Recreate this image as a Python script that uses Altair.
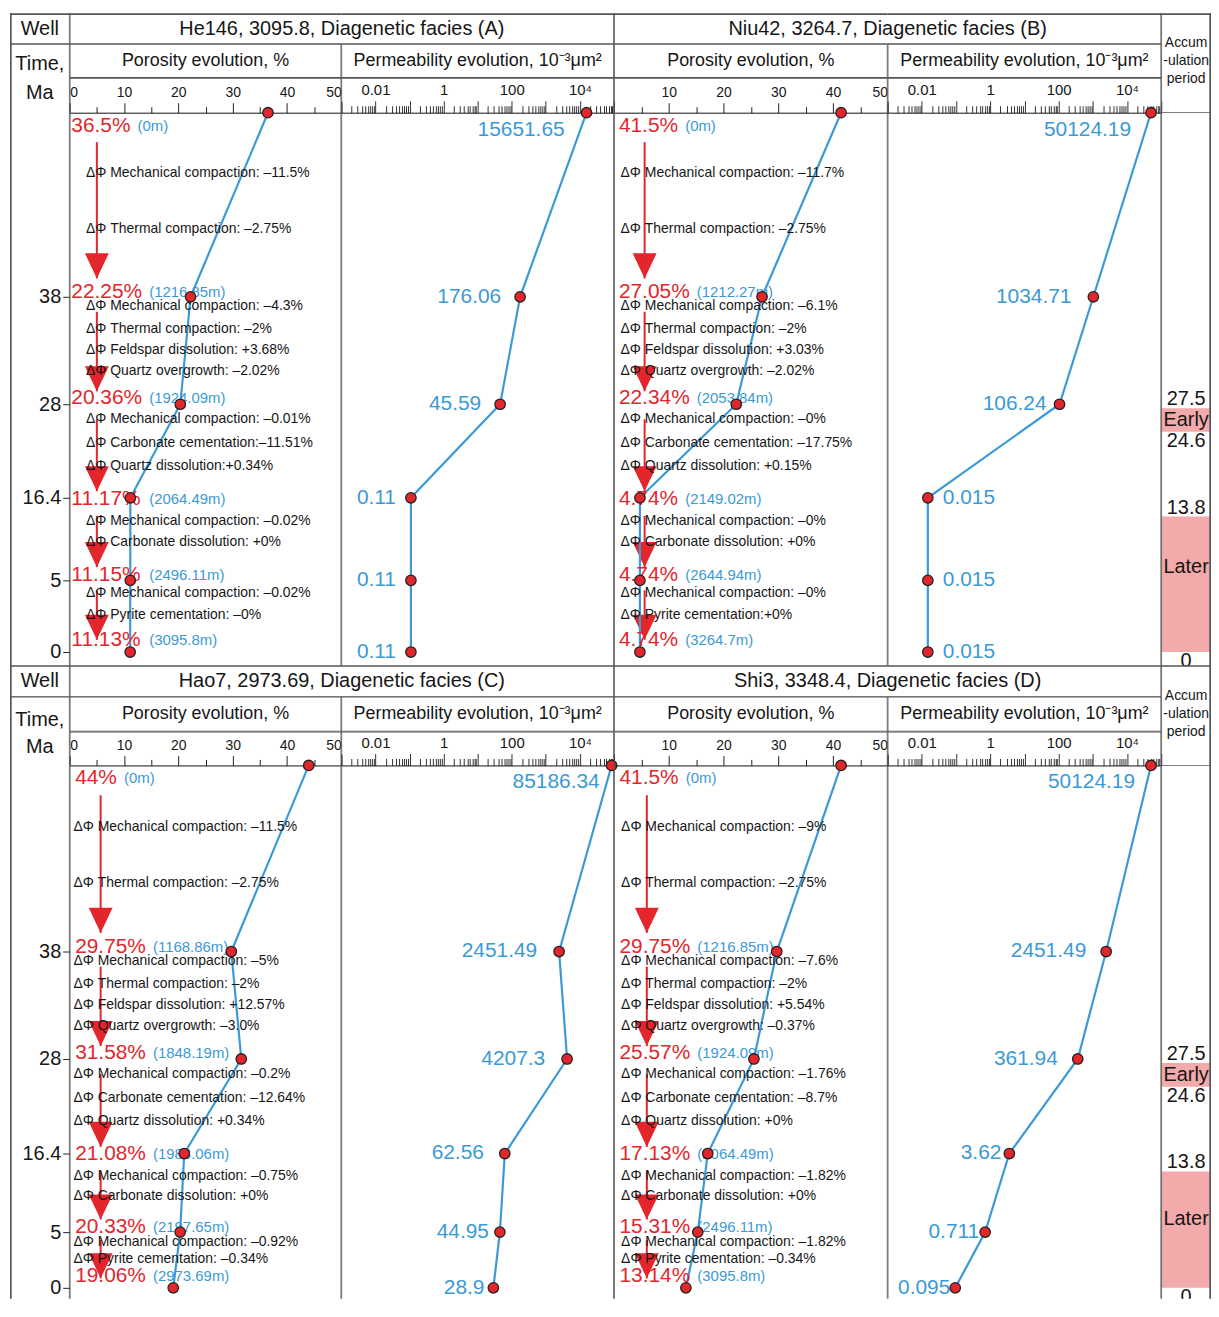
import altair as alt
import pandas as pd

FONT = "Liberation Sans"
RED = "#e3262c"
BLUE = "#3b9ad6"
INK = "#161616"
FRAME = "#555555"
PINK = "#f2aaaa"

# ---------------- data ----------------
STAGE_TIME = [45, 38, 28, 16.4, 5, 0]      # first value = deposition (top, unlabelled)
TIME_TICKS = [38, 28, 16.4, 5, 0]
POR_TICKS = list(range(0, 51, 5))
PERM_TICKS = [m * 10.0 ** e for e in range(-3, 5) for m in range(1, 10)] + [1e5]
PERM_TICK_LABELS = [(-2, "0.01"), (0, "1"), (2, "100"), (4, "10⁴")]

ACCUM_MARKS = [27.5, 24.6, 13.8, 0]
ACCUM_BAND_NAMES = ["Early", "Later"]
ACCUM_BAND_START = [27.5, 13.8]
ACCUM_BAND_END = [24.6, 0]

TITLE_A = "He146, 3095.8, Diagenetic facies (A)"
POR_A = [36.5, 22.25, 20.36, 11.17, 11.15, 11.13]
DEPTH_A = ["0m", "1216.85m", "1924.09m", "2064.49m", "2496.11m", "3095.8m"]
PERM_A = [15651.65, 176.06, 45.59, 0.11, 0.11, 0.11]
DPHI_A = [
    ["ΔΦ Mechanical compaction: –11.5%", "ΔΦ Thermal compaction: –2.75%"],
    ["ΔΦ Mechanical compaction: –4.3%", "ΔΦ Thermal compaction: –2%",
     "ΔΦ Feldspar dissolution: +3.68%", "ΔΦ Quartz overgrowth: –2.02%"],
    ["ΔΦ Mechanical compaction: –0.01%", "ΔΦ Carbonate cementation:–11.51%",
     "ΔΦ Quartz dissolution:+0.34%"],
    ["ΔΦ Mechanical compaction: –0.02%", "ΔΦ Carbonate dissolution: +0%"],
    ["ΔΦ Mechanical compaction: –0.02%", "ΔΦ Pyrite cementation: –0%"],
]

TITLE_B = "Niu42, 3264.7, Diagenetic facies (B)"
POR_B = [41.5, 27.05, 22.34, 4.74, 4.74, 4.74]
DEPTH_B = ["0m", "1212.27m", "2053.84m", "2149.02m", "2644.94m", "3264.7m"]
PERM_B = [50124.19, 1034.71, 106.24, 0.015, 0.015, 0.015]
DPHI_B = [
    ["ΔΦ Mechanical compaction: –11.7%", "ΔΦ Thermal compaction: –2.75%"],
    ["ΔΦ Mechanical compaction: –6.1%", "ΔΦ Thermal compaction: –2%",
     "ΔΦ Feldspar dissolution: +3.03%", "ΔΦ Quartz overgrowth: –2.02%"],
    ["ΔΦ Mechanical compaction: –0%", "ΔΦ Carbonate cementation: –17.75%",
     "ΔΦ Quartz dissolution: +0.15%"],
    ["ΔΦ Mechanical compaction: –0%", "ΔΦ Carbonate dissolution: +0%"],
    ["ΔΦ Mechanical compaction: –0%", "ΔΦ Pyrite cementation:+0%"],
]

TITLE_C = "Hao7, 2973.69, Diagenetic facies (C)"
POR_C = [44, 29.75, 31.58, 21.08, 20.33, 19.06]
DEPTH_C = ["0m", "1168.86m", "1848.19m", "1983.06m", "2197.65m", "2973.69m"]
PERM_C = [85186.34, 2451.49, 4207.3, 62.56, 44.95, 28.9]
DPHI_C = [
    ["ΔΦ Mechanical compaction: –11.5%", "ΔΦ Thermal compaction: –2.75%"],
    ["ΔΦ Mechanical compaction: –5%", "ΔΦ Thermal compaction: –2%",
     "ΔΦ Feldspar dissolution: +12.57%", "ΔΦ Quartz overgrowth: –3.0%"],
    ["ΔΦ Mechanical compaction: –0.2%", "ΔΦ Carbonate cementation: –12.64%",
     "ΔΦ Quartz dissolution: +0.34%"],
    ["ΔΦ Mechanical compaction: –0.75%", "ΔΦ Carbonate dissolution: +0%"],
    ["ΔΦ Mechanical compaction: –0.92%", "ΔΦ Pyrite cementation: –0.34%"],
]

TITLE_D = "Shi3, 3348.4, Diagenetic facies (D)"
POR_D = [41.5, 29.75, 25.57, 17.13, 15.31, 13.14]
DEPTH_D = ["0m", "1216.85m", "1924.09m", "2064.49m", "2496.11m", "3095.8m"]
PERM_D = [50124.19, 2451.49, 361.94, 3.62, 0.711, 0.095]
DPHI_D = [
    ["ΔΦ Mechanical compaction: –9%", "ΔΦ Thermal compaction: –2.75%"],
    ["ΔΦ Mechanical compaction: –7.6%", "ΔΦ Thermal compaction: –2%",
     "ΔΦ  Feldspar dissolution: +5.54%", "ΔΦ Quartz overgrowth: –0.37%"],
    ["ΔΦ Mechanical compaction: –1.76%", "ΔΦ Carbonate cementation: –8.7%",
     "ΔΦ Quartz dissolution: +0%"],
    ["ΔΦ Mechanical compaction: –1.82%", "ΔΦ Carbonate dissolution: +0%"],
    ["ΔΦ Mechanical compaction: –1.82%", "ΔΦ Pyrite cementation: –0.34%"],
]

POR_TITLE = "Porosity evolution, %"
PERM_TITLE = "Permeability evolution, 10⁻³μm²"
ACCUM_TITLE = ["Accum", "-ulation", "period"]

# ---------------- styling / layout (not data) ----------------
POR_LABEL_SHIFT = [13, -5, -6, 1, -5, -12]      # px, vertical nudge of the % labels
PERM_LABEL_SHIFT = [17, 0, 0, 0, 0, 0]          # px
ARROW_FRAC = [(0.16, 0.90), (0.14, 0.88), (0.16, 0.93), (0.22, 0.84), (0.14, 0.83)]
ANN_FRAC = [[0.33, 0.63], [0.09, 0.30, 0.50, 0.69], [0.16, 0.41, 0.66], [0.28, 0.54], [0.17, 0.49]]
ACCUM_SIDE = ["above", "below", "above", "below"]
HEAD = "M-1,-2.1L1,-2.1L0,0Z"
EDGE = 0.8
OUTER = 1.7

WELLS = [
    dict(title=TITLE_A, por=POR_A, depth=DEPTH_A, perm=PERM_A, dphi=DPHI_A,
         gap=[-22, -19, -19, -15, -15, -15], label_x=0.3, arrow_x=5.0, ann_x=3.0, zero=True),
    dict(title=TITLE_B, por=POR_B, depth=DEPTH_B, perm=PERM_B, dphi=DPHI_B,
         gap=[-20, -22, -13, 15, 15, 15], label_x=0.9, arrow_x=5.6, ann_x=1.2, zero=False),
    dict(title=TITLE_C, por=POR_C, depth=DEPTH_C, perm=PERM_C, dphi=DPHI_C,
         gap=[-12, -22, -22, -21, -11, -9], label_x=1.0, arrow_x=5.7, ann_x=0.7, zero=True),
    dict(title=TITLE_D, por=POR_D, depth=DEPTH_D, perm=PERM_D, dphi=DPHI_D,
         gap=[-16, -20, -20, -8, -6, -5], label_x=1.0, arrow_x=6.0, ann_x=1.3, zero=False),
]

ROWS = [
    dict(title=31, sub=34, axis=35, plot=556, offs=[0, 185, 293, 387, 470, 542], time_y=20, ma_y=15),
    dict(title=31, sub=35, axis=34, plot=536, offs=[0, 187, 295, 390, 469, 525], time_y=23, ma_y=15),
]
W_WELL, W_POR_1, W_PERM_1, W_POR_2, W_PERM_2, W_ACC = 60, 273, 274, 275, 275, 50


def interp(i, f):
    return STAGE_TIME[i] + f * (STAGE_TIME[i + 1] - STAGE_TIME[i])


def px_to_time(p, offs):
    n = len(offs)
    for i in range(n - 1):
        if p <= offs[i + 1] or i == n - 2:
            f = (p - offs[i]) / (offs[i + 1] - offs[i])
            return interp(i, f)


def border(w, h, edges="tblr", thick="", hlines=()):
    src = alt.Data(values=[{"k": 0}])

    def e(side):
        return OUTER if side in thick else EDGE

    boxes = []
    if "t" in edges:
        boxes.append((0, w, 0, e("t")))
    if "b" in edges:
        boxes.append((0, w, h - e("b"), h))
    if "l" in edges:
        boxes.append((0, e("l"), 0, h))
    if "r" in edges:
        boxes.append((w - e("r"), w, 0, h))
    for y in hlines:
        boxes.append((0, w, y - EDGE / 2, y + EDGE / 2))
    return [alt.Chart(src).mark_rect(color=FRAME).encode(
        x=alt.value(a), x2=alt.value(b), y=alt.value(c), y2=alt.value(d)) for a, b, c, d in boxes]


def text_cell(text, w, h, size, edges="tblr", thick="", x=None, y=None, line_height=None, dy=0):
    kw = dict(fontSize=size, color=INK, baseline="middle", align="center", dy=dy)
    if line_height:
        kw["lineHeight"] = line_height
    enc = {"text": alt.value(text)}
    if x is not None:
        enc["x"] = alt.value(x)
    if y is not None:
        enc["y"] = alt.value(y)
    txt = alt.Chart(alt.Data(values=[{"k": 0}])).mark_text(**kw).encode(**enc)
    return alt.layer(*border(w, h, edges, thick), txt).properties(width=w, height=h)


def por_axis(zero, shift):
    cond = "datum.value % 10 == 0" + ("" if zero else " && datum.value > 0")
    return alt.Axis(orient="top", offset=-shift, values=POR_TICKS,
                    labelExpr=f"({cond}) ? datum.label : ''",
                    tickSize={"condition": {"test": "datum.value % 10 == 0", "value": 10}, "value": 6},
                    labelFlush=True, labelOverlap=False, title=None, grid=False,
                    labelFontSize=14, labelPadding=3, domainColor="#111", tickColor="#222",
                    labelColor=INK)


def perm_axis(shift):
    L = "(log(datum.value)/LN10)"
    expr = "''"
    for e, lab in reversed(PERM_TICK_LABELS):
        expr = f"abs({L}-({e}))<1e-6 ? '{lab}' : ({expr})"
    return alt.Axis(orient="top", offset=-shift, values=PERM_TICKS, labelExpr=expr,
                    tickSize={"condition": {"test": f"abs({L}-round({L}))<1e-6", "value": 12}, "value": 7},
                    labelFlush=False, labelOverlap=False, title=None, grid=False,
                    labelFontSize=15, labelPadding=3, domainColor="#111", tickColor="#333",
                    labelColor=INK)


def porosity_panel(w, row, width, edges):
    top = row["axis"]
    offs = row["offs"]
    height = top + row["plot"]
    sy = alt.Scale(domain=STAGE_TIME, range=[o + top for o in offs], nice=False, zero=False)
    sx = alt.Scale(domain=[0, 50], nice=False, zero=False)
    xa = por_axis(w["zero"], top)
    ppu = width / 50.0

    def X(f):
        return alt.X(f"{f}:Q", scale=sx, axis=xa)

    def Y(f):
        return alt.Y(f"{f}:Q", scale=sy, axis=None)

    n = len(STAGE_TIME)
    pts = pd.DataFrame({
        "i": list(range(n)), "t": STAGE_TIME, "por": w["por"],
        "plabel": [f"{v}%" for v in w["por"]],
        "dlabel": [f"({d})" for d in w["depth"]],
        "tl": [px_to_time(offs[i] + POR_LABEL_SHIFT[i], offs) for i in range(n)],
        "lx": [w["label_x"]] * n,
    })
    arrows = pd.DataFrame({
        "ax": [w["arrow_x"]] * (n - 1),
        "t1": [interp(i, ARROW_FRAC[i][0]) for i in range(n - 1)],
        "t2": [interp(i, ARROW_FRAC[i][1]) for i in range(n - 1)],
    })
    ann_rows = []
    for i, lines in enumerate(w["dphi"]):
        for j, txt in enumerate(lines):
            ann_rows.append({"tx": w["ann_x"], "t": interp(i, ANN_FRAC[i][j]), "txt": txt})
    ann = pd.DataFrame(ann_rows)

    base = alt.Chart(pts)
    rule = alt.Chart(arrows).mark_rule(color=RED, strokeWidth=2).encode(
        x=X("ax"), y=Y("t1"), y2="t2")
    head = alt.Chart(arrows).mark_point(shape=HEAD, filled=True, color=RED, size=576, opacity=1).encode(
        x=X("ax"), y=Y("t2"))
    line = base.mark_line(color=BLUE, strokeWidth=2.2).encode(x=X("por"), y=Y("t"), order="i:Q")
    anntext = alt.Chart(ann).mark_text(align="left", baseline="middle", fontSize=14, color=INK).encode(
        x=X("tx"), y=Y("t"), text="txt:N")
    red = base.mark_text(align="left", baseline="middle", fontSize=21, color=RED).encode(
        x=X("lx"), y=Y("tl"), text="plabel:N")
    dep = base.transform_calculate(
        dx=f"datum.lx + (length(datum.plabel) * 11.7 + 14 - (indexof(datum.plabel, '.') >= 0 ? 5.9 : 0)) / {ppu}"
    ).mark_text(align="left", baseline="middle", fontSize=15, color=BLUE).encode(
        x=X("dx"), y=Y("tl"), text="dlabel:N")
    dots = base.mark_circle(color=RED, stroke="#222", strokeWidth=1.3, size=110, opacity=1).encode(
        x=X("por"), y=Y("t"))
    return alt.layer(*border(width, height, edges), rule, head, line, anntext, red, dep, dots).properties(
        width=width, height=height)


def perm_panel(w, row, width, edges):
    top = row["axis"]
    offs = row["offs"]
    height = top + row["plot"]
    sy = alt.Scale(domain=STAGE_TIME, range=[o + top for o in offs], nice=False, zero=False)
    sx = alt.Scale(type="log", domain=[1e-3, 1e5], nice=False)
    xa = perm_axis(top)
    ppd = width / 8.0     # pixels per decade

    def X(f):
        return alt.X(f"{f}:Q", scale=sx, axis=xa)

    def Y(f):
        return alt.Y(f"{f}:Q", scale=sy, axis=None)

    n = len(STAGE_TIME)
    df = pd.DataFrame({
        "i": list(range(n)), "t": STAGE_TIME, "k": w["perm"],
        "lab": [str(v) for v in w["perm"]],
        "side": ["R" if g > 0 else "L" for g in w["gap"]],
        "kl": [v * 10 ** (g / ppd) for v, g in zip(w["perm"], w["gap"])],
        "tl": [px_to_time(offs[i] + PERM_LABEL_SHIFT[i], offs) for i in range(n)],
    })
    base = alt.Chart(df)
    line = base.mark_line(color=BLUE, strokeWidth=2.2).encode(x=X("k"), y=Y("t"), order="i:Q")
    left = base.transform_filter("datum.side == 'L'").mark_text(
        align="right", baseline="middle", fontSize=21, color=BLUE).encode(
        x=X("kl"), y=Y("tl"), text="lab:N")
    right = base.transform_filter("datum.side == 'R'").mark_text(
        align="left", baseline="middle", fontSize=21, color=BLUE).encode(
        x=X("kl"), y=Y("tl"), text="lab:N")
    dots = base.mark_circle(color=RED, stroke="#222", strokeWidth=1.3, size=110, opacity=1).encode(
        x=X("k"), y=Y("t"))
    return alt.layer(*border(width, height, edges), line, left, right, dots).properties(
        width=width, height=height)


def time_cell(row, width, edges):
    top = row["axis"]
    height = top + row["plot"]
    sy = alt.Scale(domain=STAGE_TIME, range=[o + top for o in row["offs"]], nice=False, zero=False)
    ya = alt.Axis(orient="left", offset=-width, values=TIME_TICKS, format=".4~g", tickSize=7,
                  labelFontSize=20, labelPadding=2, domain=False, grid=False,
                  title=None, labelOverlap=False, labelColor=INK, tickColor="#222")
    ticks = alt.Chart(pd.DataFrame({"t": TIME_TICKS})).mark_point(opacity=0, size=1).encode(
        y=alt.Y("t:Q", scale=sy, axis=ya))
    txt = alt.Chart(alt.Data(values=[{"k": 0}])).mark_text(
        fontSize=20, color=INK, baseline="middle", align="center"
    ).encode(text=alt.value("Ma"), y=alt.value(row["ma_y"]))
    return alt.layer(*border(width, height, edges, "l"), ticks, txt).properties(width=width, height=height)


def accum_panel(row, width, edges):
    top = row["axis"]
    height = top + row["plot"]
    sy = alt.Scale(domain=STAGE_TIME, range=[o + top for o in row["offs"]], nice=False, zero=False)

    def Y(f):
        return alt.Y(f"{f}:Q", scale=sy, axis=None)

    bands = pd.DataFrame({
        "name": ACCUM_BAND_NAMES, "t0": ACCUM_BAND_START, "t1": ACCUM_BAND_END,
        "tm": [(a + b) / 2 for a, b in zip(ACCUM_BAND_START, ACCUM_BAND_END)],
    })
    marks = pd.DataFrame({"t": ACCUM_MARKS, "lab": [f"{v:g}" for v in ACCUM_MARKS], "side": ACCUM_SIDE})
    rect = alt.Chart(bands).mark_rect(color=PINK).encode(y=Y("t0"), y2="t1")
    names = alt.Chart(bands).mark_text(fontSize=20, color=INK, baseline="middle").encode(
        y=Y("tm"), text="name:N")
    above = alt.Chart(marks).transform_filter("datum.side == 'above'").mark_text(
        fontSize=20, color=INK, baseline="alphabetic", dy=-3, clip=True).encode(y=Y("t"), text="lab:N")
    below = alt.Chart(marks).transform_filter("datum.side == 'below'").mark_text(
        fontSize=20, color=INK, baseline="top", dy=-1, clip=True).encode(y=Y("t"), text="lab:N")
    return alt.layer(rect, names, above, below,
                     *border(width, height, edges, "r", hlines=(top,))).properties(
        width=width, height=height)


def grid_row(r, wa, wb):
    row = ROWS[r]
    first = r == 0
    last = r == len(ROWS) - 1
    pe = "tlr" if last else "tblr"
    tt = "t" if first else ""
    cells = [
        text_cell("Well", W_WELL, row["title"], 20, thick="l" + tt),
        text_cell(wa["title"], W_POR_1, row["title"], 20, edges="tbl", thick=tt,
                  x=(W_POR_1 + W_PERM_1) / 2),
        text_cell(" ", W_PERM_1, row["title"], 10, edges="tbr", thick=tt),
        text_cell(wb["title"], W_POR_2, row["title"], 20, edges="tbl", thick=tt,
                  x=(W_POR_2 + W_PERM_2) / 2),
        text_cell(" ", W_PERM_2, row["title"], 10, edges="tbr", thick=tt),
        text_cell(" ", W_ACC, row["title"], 10, edges="tlr", thick="r" + tt),

        text_cell("Time,", W_WELL, row["sub"], 20, edges="tlr", thick="l", y=row["time_y"]),
        text_cell(POR_TITLE, W_POR_1, row["sub"], 18),
        text_cell(PERM_TITLE, W_PERM_1, row["sub"], 18),
        text_cell(POR_TITLE, W_POR_2, row["sub"], 18),
        text_cell(PERM_TITLE, W_PERM_2, row["sub"], 18),
        text_cell(ACCUM_TITLE, W_ACC, row["sub"], 14, edges="lr", thick="r", line_height=18, dy=-18),

        time_cell(row, W_WELL, "lr" if last else "lrb"),
        porosity_panel(wa, row, W_POR_1, pe),
        perm_panel(wa, row, W_PERM_1, pe),
        porosity_panel(wb, row, W_POR_2, pe),
        perm_panel(wb, row, W_PERM_2, pe),
        accum_panel(row, W_ACC, "lr" if last else "lrb"),
    ]
    return cells


cells = grid_row(0, WELLS[0], WELLS[1]) + grid_row(1, WELLS[2], WELLS[3])
chart = alt.concat(*cells, columns=6, spacing=0, bounds="flush").properties(
    padding={"left": 2, "top": 2, "right": 0, "bottom": 0}
).configure(font=FONT).configure_view(strokeWidth=0, strokeOpacity=0).configure_axis(
    labelFont=FONT, domainWidth=1, tickWidth=1)

chart.save("out.html", embed_options={"renderer": "svg", "actions": False})
